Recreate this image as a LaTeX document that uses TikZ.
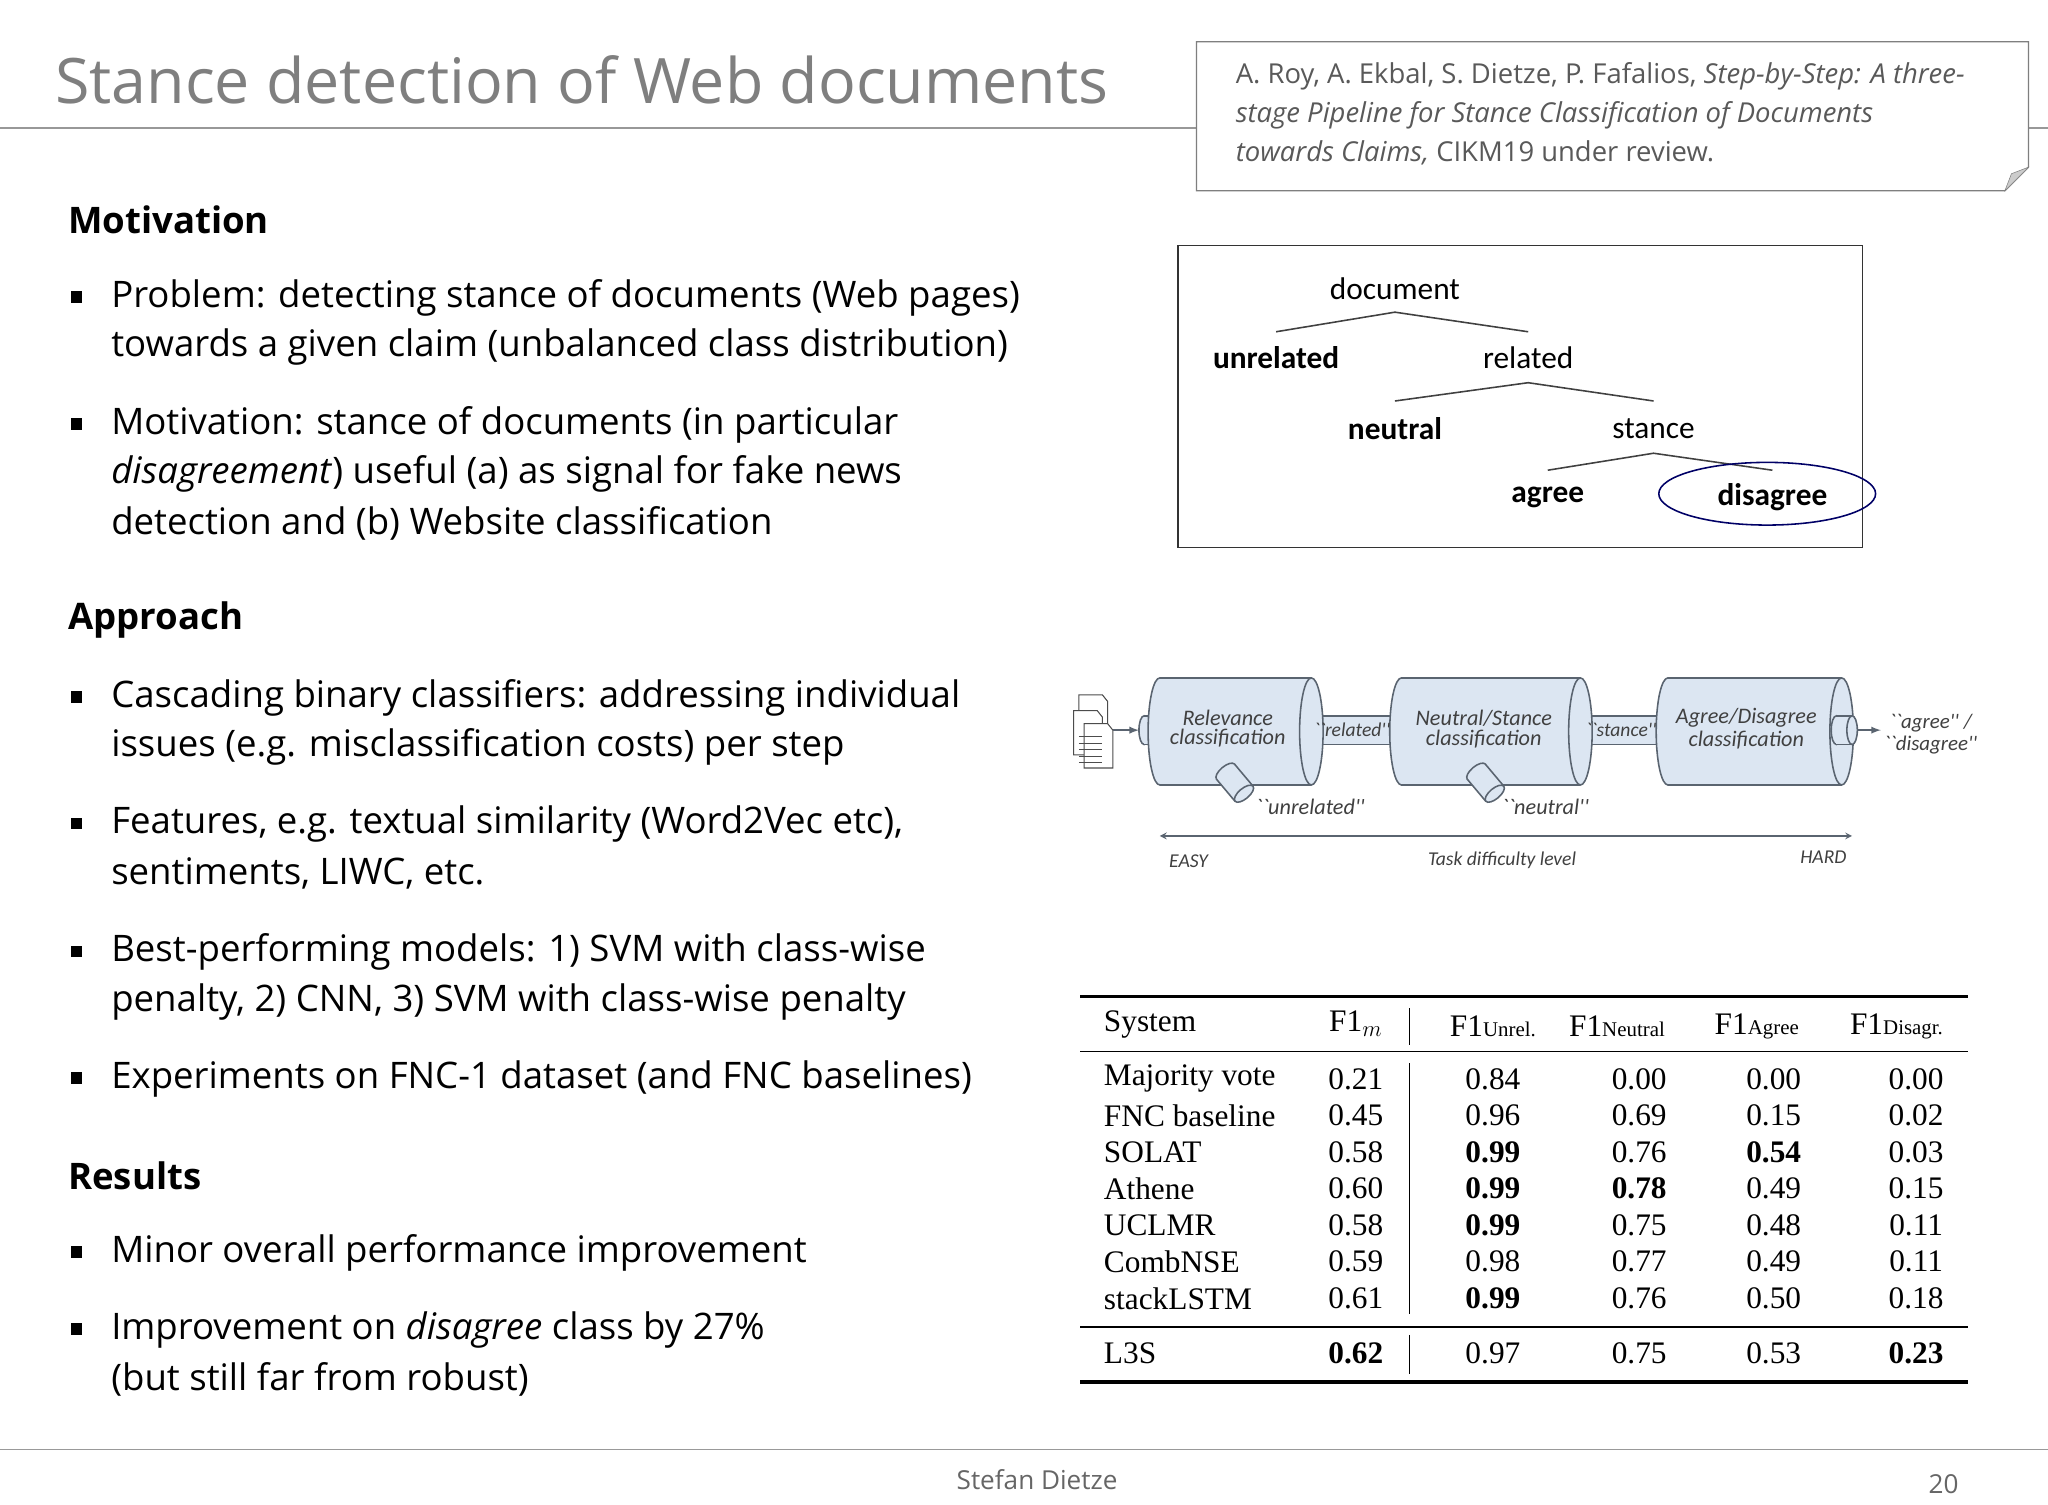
\documentclass[tikz,border=0pt]{standalone}
\usepackage{fontspec}
\setmainfont{Open Sans}
\newfontfamily\calfont{Carlito}
\newfontfamily\tabfont{Liberation Serif}
\begin{document}
\begin{tikzpicture}[x=1pt,y=-1pt,
  body/.style={font=\fontsize{28}{36}\selectfont, anchor=west, inner sep=0},
  head/.style={font=\fontsize{28}{36}\selectfont\bfseries, anchor=west, inner sep=0},
  tree/.style={font=\calfont\fontsize{24}{28}\selectfont, inner sep=0},
  treeb/.style={font=\calfont\fontsize{24}{28}\selectfont\bfseries, inner sep=0},
  pipe/.style={font=\calfont\fontsize{17}{19}\selectfont\itshape, inner sep=0, text=black!75},
  tb/.style={font=\tabfont\fontsize{24}{28}\selectfont, inner sep=0},
  cylf/.style={fill=cylblue, draw=cylline, line width=1.2pt}]
\definecolor{cylblue}{HTML}{DCE6F2}
\definecolor{cylline}{HTML}{5A6470}
\definecolor{ttl}{HTML}{7F7F7F}
\useasboundingbox (0,0) rectangle (1568,1152);
\fill[white] (0,0) rectangle (1568,1152);
% title
\node[anchor=base west, inner sep=0, text=ttl, font=\fontsize{48}{60}\selectfont] (title) at (42,79) {Stance detection of Web documents};
\draw[ttl!80, line width=1pt] (0,98) -- (916,98) (1553,98) -- (1568,98);
% citation box
\draw[ttl, line width=1pt, fill=white] (916,32) -- (1553,32) -- (1553,128) -- (1535,146) -- (916,146) -- cycle;
\draw[ttl, fill=black!20] (1553,128) -- (1540,133) -- (1535,146) -- cycle;
\node[anchor=north west, inner sep=0, text=black!65, align=left, font=\fontsize{21}{29.5}\selectfont] (cite) at (946,48)
 {A. Roy, A. Ekbal, S. Dietze, P. Fafalios, \textit{Step-by-Step: A three-}\\\textit{stage Pipeline for Stance Classification of Documents}\\\textit{towards Claims,} CIKM19 under review.};
% left text
\node[head] (mot) at (52,168) {Motivation};
\foreach \y in {228,325,534,631,729,826,959,1018} { \fill (54,\y-5) rectangle +(9,9); }
\node[body] (b1) at (85,228) {Problem: detecting stance of documents (Web pages)};
\node[body] (b1b) at (85,266) {towards a given claim (unbalanced class distribution)};
\node[body] (b2) at (85,325) {Motivation: stance of documents (in particular};
\node[body] (b2b) at (85,363) {\textit{disagreement}) useful (a) as signal for fake news};
\node[body] (b2c) at (85,401) {detection and (b) Website classification};
\node[head] (app) at (52,475) {Approach};
\node[body] (b3) at (85,534) {Cascading binary classifiers: addressing individual};
\node[body] (b3b) at (85,572) {issues (e.g. misclassification costs) per step};
\node[body] (b4) at (85,631) {Features, e.g. textual similarity (Word2Vec etc),};
\node[body] (b4b) at (85,669) {sentiments, LIWC, etc.};
\node[body] (b5) at (85,729) {Best-performing models: 1) SVM with class-wise};
\node[body] (b5b) at (85,767) {penalty, 2) CNN, 3) SVM with class-wise penalty};
\node[body] (b6) at (85,826) {Experiments on FNC-1 dataset (and FNC baselines)};
\node[head] (res) at (52,900) {Results};
\node[body] (b7) at (85,959) {Minor overall performance improvement};
\node[body] (b8) at (85,1018) {Improvement on \textit{disagree} class by 27\%};
\node[body] (b8b) at (85,1056) {(but still far from robust)};
% tree
\draw[black!80, line width=1pt] (902,188) rectangle (1426,419);
\node[tree] (doc) at (1068,221) {document};
\node[treeb] (unr) at (977,274) {unrelated};
\node[tree] (rel) at (1170,274) {related};
\node[treeb] (neu) at (1068,328) {neutral};
\node[tree] (sta) at (1266,328) {stance};
\node[treeb] (agr) at (1185,381) {agree};
\node[treeb] (dis) at (1357,381) {disagree};
\draw[black!75, line width=1.2pt] (977,254) -- (1068,239) -- (1170,254);
\draw[black!75, line width=1.2pt] (1068,307) -- (1170,293) -- (1266,307);
\draw[black!75, line width=1.2pt] (1185,360) -- (1266,347) -- (1357,360);
\draw[blue!40!black, line width=1.2pt] (1353,378) ellipse [x radius=83, y radius=24];
% pipeline
\newcommand\mycyl[5]{% x1 x2 y1 y2 rx
  \fill[cylf] (#1,{(#3+#4)/2}) ellipse [x radius=#5, y radius={(#4-#3)/2}];
  \fill[cylblue] (#1,#3) rectangle (#2,#4);
  \draw[cylline, line width=1.2pt] (#1,#3) -- (#2,#3) (#1,#4) -- (#2,#4);
  \fill[cylf] (#2,{(#3+#4)/2}) ellipse [x radius=#5, y radius={(#4-#3)/2}];}
\mycyl{876}{888}{548}{570}{4}
\mycyl{1004}{1073}{548}{570}{4}
\mycyl{1210}{1277}{548}{570}{4}
\mycyl{888}{1004}{519}{601}{9}
\mycyl{1073}{1210}{519}{601}{9}
\mycyl{1277}{1410}{519}{601}{9}
\mycyl{1406}{1418}{548}{570}{4}
\begin{scope}[shift={(946,600)},rotate=-50]
 \mycyl{-12}{10}{-9}{9}{4}
\end{scope}
\begin{scope}[shift={(1138,600)},rotate=-50]
 \mycyl{-12}{10}{-9}{9}{4}
\end{scope}
\node[pipe] (rc) at (940,558) {\shortstack{Relevance\\classification}};
\node[pipe] (nc) at (1136,558) {\shortstack{Neutral/Stance\\classification}};
\node[pipe] (ac) at (1337,558) {\shortstack{Agree/Disagree\\classification}};
\node[pipe,font=\calfont\fontsize{15}{17}\selectfont\itshape] (prel) at (1035,559) {``related''};
\node[pipe,font=\calfont\fontsize{15}{17}\selectfont\itshape] (psta) at (1241,559) {``stance''};
\node[pipe] (punr) at (1003,618) {``unrelated''};
\node[pipe] (pneu) at (1183,618) {``neutral''};
\node[pipe,font=\calfont\fontsize{16}{22}\selectfont\itshape] (out) at (1478,562) {\shortstack{``agree'' /\\``disagree''}};
% document icon
\foreach \dx/\dy in {0/0,-4/12,4/22} {
  \draw[black!70, fill=white, line width=0.8pt] (826+\dx,532+\dy) -- (844+\dx,532+\dy) -- (848+\dx,537+\dy) -- (848+\dx,566+\dy) -- (826+\dx,566+\dy) -- cycle;}
\foreach \yy in {564,569,574,579,584} {\draw[black!70, line width=1pt] (826,\yy) -- (844,\yy);}
\coordinate (docr) at (852,559);
\draw[-latex, cylline, line width=1.5pt] (docr) -- (872,559);
\draw[-latex, cylline, line width=1.5pt] (1422,559) -- (1440,559);
% difficulty arrow
\draw[<->, >=stealth, cylline, line width=1.3pt] (888,640) -- (1418,640);
\node[pipe,font=\calfont\fontsize{15}{17}\selectfont\itshape] (easy) at (910,659) {EASY};
\node[pipe,font=\calfont\fontsize{15}{17}\selectfont\itshape] (tdl) at (1150,659) {Task difficulty level};
\node[pipe,font=\calfont\fontsize{15}{17}\selectfont\itshape] (hard) at (1396,656) {HARD};
% table
\draw[line width=2.5pt] (827,763) -- (1507,763);
\draw[line width=1pt] (827,805) -- (1507,805);
\draw[line width=1pt] (827,1016) -- (1507,1016);
\draw[line width=2.5pt] (827,1058) -- (1507,1058);
\draw[line width=0.8pt] (1079,772) -- (1079,800) (1079,814) -- (1079,1006) (1079,1022) -- (1079,1052);
\node[tb,anchor=west] (hs) at (845,784) {System};
\node[tb] (h1) at (1038,784) {F1$_m$};
\node[tb] (h2) at (1143,786) {F1{\fontsize{16}{16}\selectfont Unrel.}};
\node[tb] (h3) at (1238,786) {F1{\fontsize{16}{16}\selectfont Neutral}};
\node[tb] (h4) at (1345,786) {F1{\fontsize{16}{16}\selectfont Agree}};
\node[tb] (h5) at (1452,786) {F1{\fontsize{16}{16}\selectfont Disagr.}};
\foreach \n/\y/\a/\b/\c/\d/\e in {
 Majority vote/826/0.21/0.84/0.00/0.00/0.00,
 FNC baseline/854/0.45/0.96/0.69/0.15/0.02,
 SOLAT/882/0.58/\textbf{0.99}/0.76/\textbf{0.54}/0.03,
 Athene/910/0.60/\textbf{0.99}/\textbf{0.78}/0.49/0.15,
 UCLMR/938/0.58/\textbf{0.99}/0.75/0.48/0.11,
 CombNSE/966/0.59/0.98/0.77/0.49/0.11,
 stackLSTM/994/0.61/\textbf{0.99}/0.76/0.50/0.18,
 L3S/1036/\textbf{0.62}/0.97/0.75/0.53/\textbf{0.23}} {
 \node[tb,anchor=west] at (845,\y) {\n};
 \node[tb] at (1038,\y) {\a};
 \node[tb] at (1143,\y) {\b};
 \node[tb] at (1255,\y) {\c};
 \node[tb] at (1358,\y) {\d};
 \node[tb] at (1467,\y) {\e};}
% footer
\draw[black!40, line width=1pt] (0,1110) -- (1568,1110);
\node[inner sep=0, text=black!60, font=\fontsize{20}{25}\selectfont] (auth) at (794,1133) {Stefan Dietze};
\node[inner sep=0, text=black!60, font=\fontsize{20}{25}\selectfont] (pg) at (1488,1136) {20};
\end{tikzpicture}
\end{document}
